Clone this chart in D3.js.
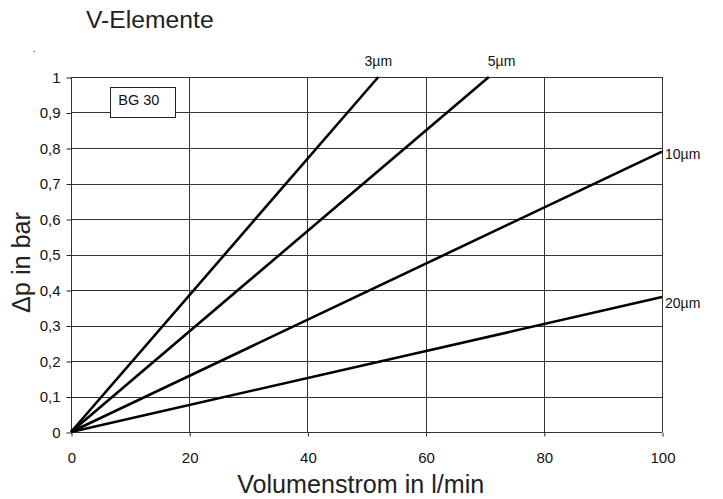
<!DOCTYPE html>
<html>
<head>
<meta charset="utf-8">
<script src="https://cdn.jsdelivr.net/npm/d3@7"></script>
<style>
  html, body { margin: 0; padding: 0; background: #fff; }
  svg { display: block; font-family: "Liberation Sans", Arial, Helvetica, sans-serif; }
</style>
</head>
<body>
<svg id="chart" width="723" height="499"></svg>
<script>
// Filter element curves: pressure drop vs. flow rate
const seriesNames = ["3µm", "5µm", "10µm", "20µm"];
const flowValues = [
  [0, 52],
  [0, 70.7],
  [0, 100],
  [0, 100]
];
const dpValues = [
  [0, 1.0],
  [0, 1.0],
  [0, 0.79],
  [0, 0.38]
];
const xTicks = [0, 20, 40, 60, 80, 100];
const yTicks = [0, 0.1, 0.2, 0.3, 0.4, 0.5, 0.6, 0.7, 0.8, 0.9, 1];
const yTickLabels = ["0", "0,1", "0,2", "0,3", "0,4", "0,5", "0,6", "0,7", "0,8", "0,9", "1"];

// Where each curve label sits relative to the curve's end point
const labelPlacement = [
  { anchor: "middle", dx: 0, dy: -11 },
  { anchor: "start", dx: -1, dy: -11 },
  { anchor: "start", dx: 3, dy: 7 },
  { anchor: "start", dx: 3, dy: 11 }
];

const svg = d3.select("#chart");
const plotLeft = 71, plotRight = 662, plotTop = 77, plotBottom = 432;

const x = d3.scaleLinear().domain([0, 100]).range([plotLeft, plotRight]);
const y = d3.scaleLinear().domain([0, 1]).range([plotBottom, plotTop]);

// Title
svg.append("text").attr("x", 86).attr("y", 28.3)
  .attr("font-size", 24.7).attr("fill", "#222").text("V-Elemente");
svg.append("circle").attr("cx", 34.3).attr("cy", 51.5).attr("r", 0.7).attr("fill", "#555");

// Grid
const grid = svg.append("g").attr("stroke", "#333").attr("stroke-width", 1);
grid.selectAll("line.h").data(yTicks).join("line").attr("class", "h")
  .attr("x1", plotLeft).attr("x2", plotRight)
  .attr("y1", d => Math.round(y(d)) + 0.5).attr("y2", d => Math.round(y(d)) + 0.5);
grid.selectAll("line.v").data(xTicks).join("line").attr("class", "v")
  .attr("y1", plotTop).attr("y2", plotBottom)
  .attr("x1", d => Math.round(x(d)) + 0.5).attr("x2", d => Math.round(x(d)) + 0.5);

// Axes
const yAxis = d3.axisLeft(y).tickValues(yTicks)
  .tickFormat((d, i) => yTickLabels[i]).tickSizeInner(5).tickSizeOuter(0).tickPadding(6);
const gy = svg.append("g").attr("transform", `translate(${plotLeft + 0.5},0.5)`).call(yAxis);
gy.select(".domain").remove();
gy.selectAll("text").attr("font-size", 15).attr("fill", "#111")
  .attr("font-family", "Liberation Sans, Arial, sans-serif");
gy.selectAll("line").attr("stroke", "#222");

const xAxis = d3.axisBottom(x).tickValues(xTicks).tickSizeInner(4).tickSizeOuter(0).tickPadding(16);
const gx = svg.append("g").attr("transform", `translate(0.5,${plotBottom + 0.5})`).call(xAxis);
gx.select(".domain").remove();
gx.selectAll("text").attr("font-size", 15).attr("fill", "#111")
  .attr("font-family", "Liberation Sans, Arial, sans-serif");
gx.selectAll("line").attr("stroke", "#222");

// Axis titles
svg.append("text").attr("x", 360.7).attr("y", 493).attr("text-anchor", "middle")
  .attr("font-size", 26).attr("fill", "#222")
  .attr("textLength", 247).attr("lengthAdjust", "spacingAndGlyphs")
  .text("Volumenstrom in l/min");
svg.append("text").attr("transform", "translate(30,262.5) rotate(-90)").attr("text-anchor", "middle")
  .attr("font-size", 26).attr("fill", "#222")
  .attr("textLength", 101).attr("lengthAdjust", "spacingAndGlyphs")
  .text("Δp in bar");

// Label box
svg.append("rect").attr("x", 110.5).attr("y", 87.5).attr("width", 65).attr("height", 30)
  .attr("fill", "#fff").attr("stroke", "#222").attr("stroke-width", 1);
svg.append("text").attr("x", 118.3).attr("y", 104.5).attr("font-size", 14.5).attr("fill", "#111").text("BG 30");

// Curves
const line = d3.line().x(d => x(d[0])).y(d => y(d[1]));
const series = seriesNames.map((n, i) => ({
  name: n,
  pts: flowValues[i].map((f, j) => [f, dpValues[i][j]]),
  place: labelPlacement[i]
}));
svg.append("g").selectAll("path").data(series).join("path")
  .attr("d", d => line(d.pts)).attr("fill", "none")
  .attr("stroke", "#000").attr("stroke-width", 2.6);

// Curve labels at the end of each line
const endOf = d => d.pts[d.pts.length - 1];
svg.append("g").selectAll("text").data(series).join("text")
  .attr("font-size", 14).attr("fill", "#111")
  .attr("x", d => x(endOf(d)[0]) + d.place.dx)
  .attr("y", d => y(endOf(d)[1]) + d.place.dy)
  .attr("text-anchor", d => d.place.anchor)
  .text(d => d.name);
</script>
</body>
</html>
